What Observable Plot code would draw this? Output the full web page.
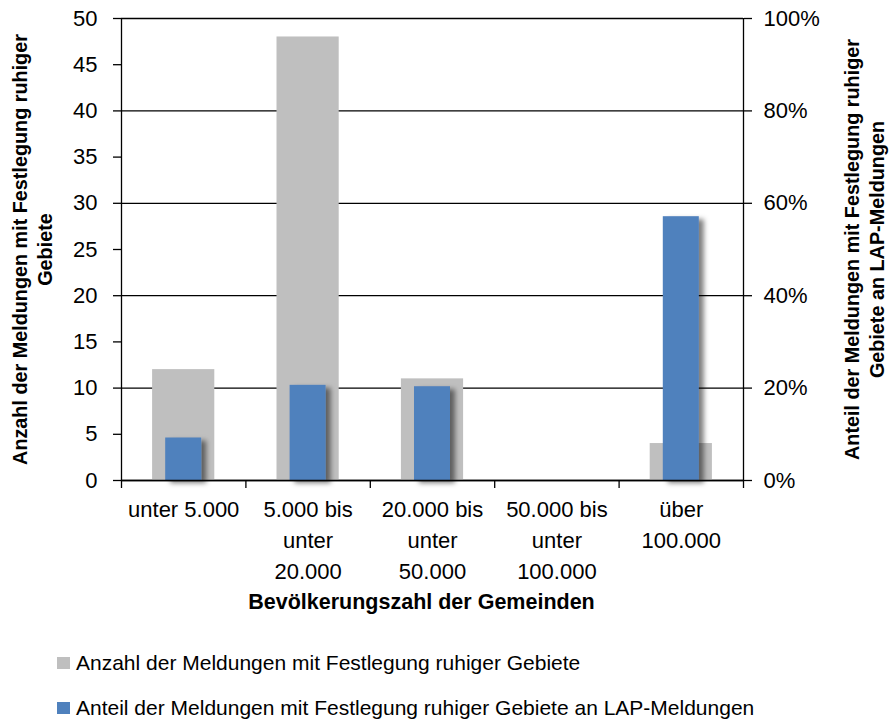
<!DOCTYPE html>
<html><head><meta charset="utf-8">
<script src="https://cdn.jsdelivr.net/npm/d3@7"></script>
<script src="https://cdn.jsdelivr.net/npm/@observablehq/plot@0.6"></script>
<style>
body{margin:0;background:#fff;font-family:"Liberation Sans",Arial,sans-serif;}
#wrap{position:relative;width:892px;height:722px;overflow:hidden;}
#wrap svg{position:absolute;left:0;top:0;}
.leg{position:absolute;left:57px;height:22px;line-height:22px;font-size:21px;display:flex;align-items:center;white-space:nowrap;color:#000;}
.sw{width:13px;height:12px;margin-right:6px;flex:none;}
</style></head><body><div id="wrap"></div>
<script>
const categories = ["unter 5.000", "5.000 bis\nunter\n20.000", "20.000 bis\nunter\n50.000", "50.000 bis\nunter\n100.000", "über\n100.000"];
const anzahl = [12, 48, 11, 0, 4];
const anteil = [9.2, 20.6, 20.3, 0, 57.1];
const leftTicks = [0, 5, 10, 15, 20, 25, 30, 35, 40, 45, 50];
const rightTicks = [0, 20, 40, 60, 80, 100];
const seriesNames = ["Anzahl der Meldungen mit Festlegung ruhiger Gebiete", "Anteil der Meldungen mit Festlegung ruhiger Gebiete an LAP-Meldungen"];
const colors = ["#BFBFBF", "#4F81BD"];
const xTitle = "Bevölkerungszahl der Gemeinden";
const yTitleLeft = "Anzahl der Meldungen mit Festlegung ruhiger\nGebiete";
const yTitleRight = "Anteil der Meldungen mit Festlegung ruhiger\nGebiete an LAP-Meldungen";

const yMax = 50, pctMax = 100;
const toLeft = p => p * yMax / pctMax;
const rows = categories.map((c, i) => ({i, label: c, anzahl: anzahl[i], anteil: anteil[i]}));
const bounds = d3.range(categories.length + 1);
const grid = rightTicks.map(toLeft);

const plot = Plot.plot({
  width: 892, height: 630,
  marginLeft: 121, marginRight: 149, marginTop: 18, marginBottom: 150,
  x: {domain: [0, categories.length]},
  y: {domain: [0, yMax]},
  style: {fontFamily: "'Liberation Sans', Arial, sans-serif", fontSize: "22px", color: "#000", background: "transparent", overflow: "visible"},
  marks: [
    Plot.ruleY(grid, {stroke: "#000", strokeWidth: 1.3}),
    Plot.rectY(rows, {x1: d => d.i, x2: d => d.i + 1, y1: 0, y2: "anzahl", fill: colors[0], insetLeft: 31.1, insetRight: 31.1}),
    Plot.rectY(rows, {x1: d => d.i, x2: d => d.i + 1, y1: 0, y2: d => toLeft(d.anteil), fill: colors[1], insetLeft: 44.2, insetRight: 44.2, ariaDescription: "anteil"}),
    Plot.ruleX([0, categories.length], {stroke: "#000", strokeWidth: 1.3}),
    Plot.ruleY([0], {stroke: "#000", strokeWidth: 1.3}),
    Plot.axisY({ticks: leftTicks, tickSize: 8, tickPadding: 16, tickFormat: d => String(d), label: null, strokeWidth: 1.3, fontSize: 22}),
    Plot.axisY({anchor: "right", ticks: grid, tickSize: 8, tickPadding: 12, tickFormat: d => Math.round(d * pctMax / yMax) + "%", label: null, strokeWidth: 1.3, fontSize: 22}),
    Plot.axisX({ticks: bounds, tickSize: 8, tickFormat: () => "", label: null, strokeWidth: 1.3}),
    Plot.text(rows, {x: d => d.i + 0.5, y: 0, text: "label", lineAnchor: "top", dy: 14, lineHeight: 1.41, fontSize: 22, fill: "#000"}),
    Plot.text([xTitle], {text: d => d, frameAnchor: "bottom", textAnchor: "middle", dy: 128, dx: -11, fontWeight: "bold", fontSize: 21.5, fill: "#000"}),
    Plot.text([yTitleLeft], {text: d => d, frameAnchor: "left", textAnchor: "middle", lineAnchor: "middle", rotate: -90, dx: -90, lineHeight: 1.26, fontWeight: "bold", fontSize: 19.8, fill: "#000"}),
    Plot.text([yTitleRight], {text: d => d, frameAnchor: "right", textAnchor: "middle", lineAnchor: "middle", rotate: -90, dx: 120, lineHeight: 1.26, fontWeight: "bold", fontSize: 19.8, fill: "#000"})
  ]
});

// shadow filter for the blue bars
const svg = d3.select(plot);
const defs = svg.insert("defs", ":first-child");
const f = defs.append("filter").attr("id", "barShadow").attr("x", "-20%").attr("y", "-10%").attr("width", "160%").attr("height", "130%");
f.append("feDropShadow").attr("dx", 5).attr("dy", 3).attr("stdDeviation", 2.5).attr("flood-color", "#000").attr("flood-opacity", 0.5);
svg.select('g[aria-description="anteil"]').attr("filter", "url(#barShadow)");

const wrap = document.getElementById("wrap");
wrap.appendChild(plot);
seriesNames.forEach((name, k) => {
  const div = document.createElement("div");
  div.className = "leg";
  div.style.top = (652 + k * 45) + "px";
  const sw = document.createElement("span");
  sw.className = "sw";
  sw.style.background = colors[k];
  const t = document.createElement("span");
  t.textContent = name;
  div.appendChild(sw); div.appendChild(t);
  wrap.appendChild(div);
});
</script></body></html>
